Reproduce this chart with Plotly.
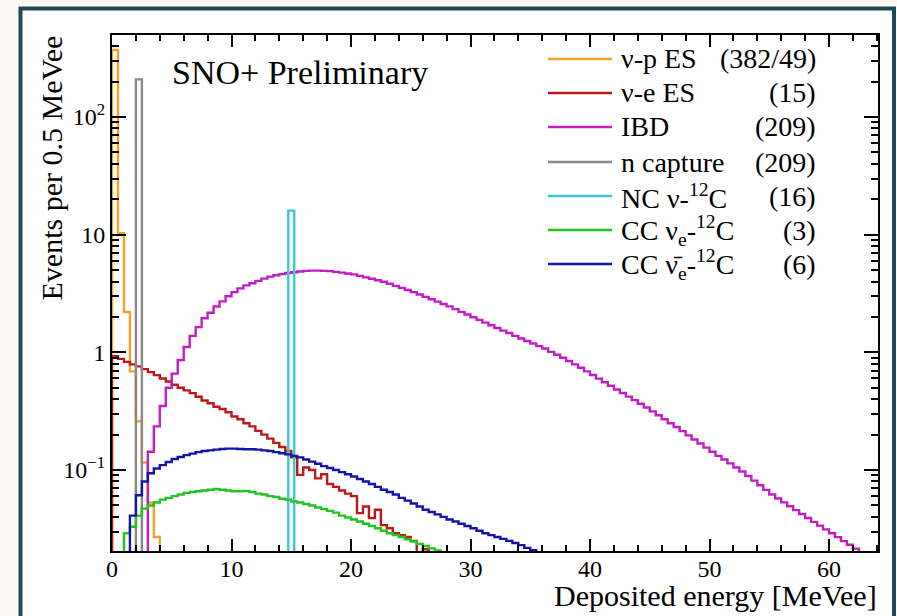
import plotly.graph_objects as go

# ---------------- data (events per 0.5 MeVee bin) ----------------
BIN = 0.5

vp_start = 0.0
vp_vals = [371, 10.3, 2.2, 0.69, 0.26, 0.116, 0.053, 0.027]

ve_start = 0.0
ve_vals = [0.93, 0.88, 0.83, 0.79, 0.76, 0.72, 0.68, 0.64, 0.60, 0.565,
           0.53, 0.50, 0.475, 0.45, 0.42, 0.39, 0.37, 0.345, 0.33, 0.31,
           0.285, 0.27, 0.25, 0.235, 0.215, 0.20, 0.185, 0.17, 0.157, 0.145,
           0.128, 0.091, 0.105, 0.100, 0.085, 0.092, 0.076, 0.072, 0.067, 0.063,
           0.060, 0.043, 0.049, 0.039, 0.046, 0.034, 0.032, 0.029, 0.028, 0.027,
           0.025, 0.0, 0.0212]

ibd_start = 3.0
ibd_vals = [0.143, 0.235, 0.35, 0.50, 0.66, 0.86, 1.11, 1.38, 1.64, 1.95,
            2.17, 2.45, 2.71, 3.00, 3.25, 3.50, 3.71, 3.87, 4.05, 4.23,
            4.40, 4.52, 4.62, 4.72, 4.79, 4.86, 4.93, 4.95, 4.95, 4.93,
            4.90, 4.83, 4.76, 4.68, 4.60, 4.47, 4.34, 4.22, 4.10, 3.98,
            3.83, 3.67, 3.53, 3.39, 3.25, 3.10, 2.96, 2.83, 2.70, 2.58,
            2.46, 2.33, 2.21, 2.10, 1.99, 1.89, 1.79, 1.70, 1.61, 1.53,
            1.46, 1.38, 1.31, 1.25, 1.19, 1.13, 1.08, 1.01, 0.955, 0.90,
            0.845, 0.79, 0.74, 0.69, 0.643, 0.598, 0.558, 0.52, 0.484, 0.452,
            0.421, 0.393, 0.366, 0.34, 0.315, 0.292, 0.27, 0.25, 0.232, 0.214,
            0.197, 0.182, 0.168, 0.155, 0.143, 0.132, 0.123, 0.114, 0.105, 0.0973,
            0.0889, 0.0813, 0.0742, 0.0678, 0.0619, 0.0573, 0.0531, 0.0492, 0.0456, 0.0423,
            0.0391, 0.0363, 0.0337, 0.0313, 0.029, 0.0269, 0.0249, 0.0232, 0.0215, 0.0196,
            0.0182, 0.0169]

ncap_start = 2.0
ncap_vals = [209]

nc_start = 14.75
nc_vals = [16]

ccnu_start = 1.0
ccnu_vals = [0.029, 0.033, 0.041, 0.047, 0.050, 0.053, 0.056, 0.058, 0.060, 0.062,
             0.064, 0.065, 0.066, 0.067, 0.068, 0.069, 0.068, 0.067, 0.066, 0.066,
             0.0665, 0.065, 0.063, 0.062, 0.060, 0.059, 0.057, 0.056, 0.054, 0.053,
             0.0515, 0.050, 0.048, 0.0465, 0.045, 0.0435, 0.041, 0.0395, 0.038, 0.0365,
             0.035, 0.0335, 0.032, 0.0305, 0.029, 0.028, 0.027, 0.0258, 0.0247, 0.0236,
             0.0226, 0.0216, 0.0207, 0.0195]

ccanu_start = 1.5
ccanu_vals = [0.041, 0.061, 0.080, 0.094, 0.103, 0.110, 0.117, 0.124, 0.129, 0.134,
              0.138, 0.142, 0.145, 0.147, 0.149, 0.151, 0.152, 0.152, 0.151, 0.150,
              0.150, 0.149, 0.147, 0.145, 0.142, 0.139, 0.136, 0.132, 0.128, 0.123,
              0.118, 0.113, 0.108, 0.104, 0.100, 0.096, 0.092, 0.088, 0.084, 0.080,
              0.076, 0.072, 0.068, 0.065, 0.062, 0.058, 0.055, 0.052, 0.049, 0.046,
              0.044, 0.042, 0.040, 0.038, 0.0365, 0.035, 0.0335, 0.032, 0.0305, 0.029,
              0.028, 0.027, 0.026, 0.025, 0.024, 0.023, 0.0218, 0.0208, 0.0196, 0.0185]

labels = ["ν-p ES", "ν-e ES", "IBD", "n capture", "NC ν-<sup>12</sup>C",
          "CC ν<sub>e</sub>-<sup>12</sup>C", "CC ν\u0304<sub>e</sub>-<sup>12</sup>C"]
counts = ["(382/49)", "(15)", "(209)", "(209)", "(16)", "(3)", "(6)"]
colors = ["#f2a22a", "#c01818", "#c41cc4", "#888888", "#3cc8d2", "#22c322", "#1414a8"]

x_ticks = [0, 10, 20, 30, 40, 50, 60]
y_tickvals = [0.1, 1, 10, 100]
y_ticktext = ["10<sup>\u22121</sup>", "1", "10", "10<sup>2</sup>"]

# ---------------- helpers ----------------
FLOOR = 1e-3
W, H = 897, 616
L, R, T, B = 112, 19, 35, 65
PW, PH = W - L - R, H - T - B


def fx(px):
    return (px - L) / PW


def fy(py):
    return (H - B - py) / PH


def step_xy(start, vals):
    padded = [0.0] + list(vals) + [0.0]
    edges = [start - BIN + BIN * i for i in range(len(padded) + 1)]
    y = [v if v > 0 else FLOOR for v in padded] + [FLOOR]
    return edges, y


series = [(vp_start, vp_vals), (ve_start, ve_vals), (ibd_start, ibd_vals),
          (ncap_start, ncap_vals), (nc_start, nc_vals),
          (ccnu_start, ccnu_vals), (ccanu_start, ccanu_vals)]

fig = go.Figure()
for (st, vals), col, lab in zip(series, colors, labels):
    xs, ys = step_xy(st, vals)
    fig.add_trace(go.Scatter(x=xs, y=ys, mode="lines", line_shape="hv",
                             line=dict(color=col, width=2.4), name=lab,
                             showlegend=False, hoverinfo="skip"))

FONT = "Liberation Serif, Times New Roman, serif"

shapes = [dict(type="rect", xref="paper", yref="paper",
               x0=fx(20.5), x1=fx(894), y0=fy(660), y1=fy(8.5),
               line=dict(color="#1c4a58", width=4), fillcolor="white", layer="below")]
annotations = []

row_y = [59, 93, 127, 162, 196, 230, 264]
for ry, col, lab, cnt in zip(row_y, colors, labels, counts):
    shapes.append(dict(type="line", xref="paper", yref="paper",
                       x0=fx(548), x1=fx(612), y0=fy(ry), y1=fy(ry),
                       line=dict(color=col, width=2.4)))
    annotations.append(dict(xref="paper", yref="paper", x=fx(619), y=fy(ry),
                            xanchor="left", yanchor="middle", text=lab, showarrow=False,
                            font=dict(family=FONT, size=28, color="black")))
    annotations.append(dict(xref="paper", yref="paper", x=fx(818), y=fy(ry),
                            xanchor="right", yanchor="middle", text=cnt, showarrow=False,
                            font=dict(family=FONT, size=28, color="black")))

annotations.append(dict(xref="paper", yref="paper", x=fx(170), y=fy(72),
                        xanchor="left", yanchor="middle", text="SNO+ Preliminary",
                        showarrow=False, font=dict(family=FONT, size=34, color="black")))
annotations.append(dict(xref="paper", yref="paper", x=fx(879), y=fy(595),
                        xanchor="right", yanchor="middle", text="Deposited energy [MeVee]",
                        showarrow=False, font=dict(family=FONT, size=30, color="black")))
annotations.append(dict(xref="paper", yref="paper", x=fx(51), y=fy(34),
                        xanchor="center", yanchor="top", text="Events per 0.5 MeVee",
                        textangle=-90, showarrow=False,
                        font=dict(family=FONT, size=30, color="black")))

minor_y = [m * 10 ** e for e in range(-2, 3) for m in range(2, 10)]

fig.update_layout(
    width=W, height=H, autosize=False,
    margin=dict(l=L, r=R, t=T, b=B, pad=0),
    paper_bgcolor="#fdf8f3", plot_bgcolor="white",
    shapes=shapes, annotations=annotations,
    xaxis=dict(range=[0, 64.1], tickvals=x_ticks, ticks="inside", ticklen=12,
               tickwidth=1.5, tickcolor="black", showline=True, linecolor="black",
               linewidth=2, mirror="ticks", showgrid=False, zeroline=False,
               ticklabelstandoff=-5,
               tickfont=dict(family=FONT, size=24, color="black"),
               minor=dict(dtick=2, ticks="inside", ticklen=6, tickcolor="black",
                          tickwidth=1.5, showgrid=False)),
    yaxis=dict(type="log", range=[-1.688, 2.697], tickmode="array",
               tickvals=y_tickvals, ticktext=y_ticktext, ticks="inside", ticklen=14,
               tickwidth=1.5, tickcolor="black", showline=True, linecolor="black",
               linewidth=2, mirror="ticks", showgrid=False, zeroline=False,
               ticklabelstandoff=0,
               tickfont=dict(family=FONT, size=24, color="black"),
               minor=dict(tickmode="array", tickvals=minor_y, ticks="inside",
                          ticklen=7, tickcolor="black", tickwidth=1.5, showgrid=False)),
    hovermode=False,
)

fig.write_html("out.html", config={"displayModeBar": False},
               post_script="document.body.style.margin='0';document.body.style.padding='0';"
                           "document.body.style.overflow='hidden';")
